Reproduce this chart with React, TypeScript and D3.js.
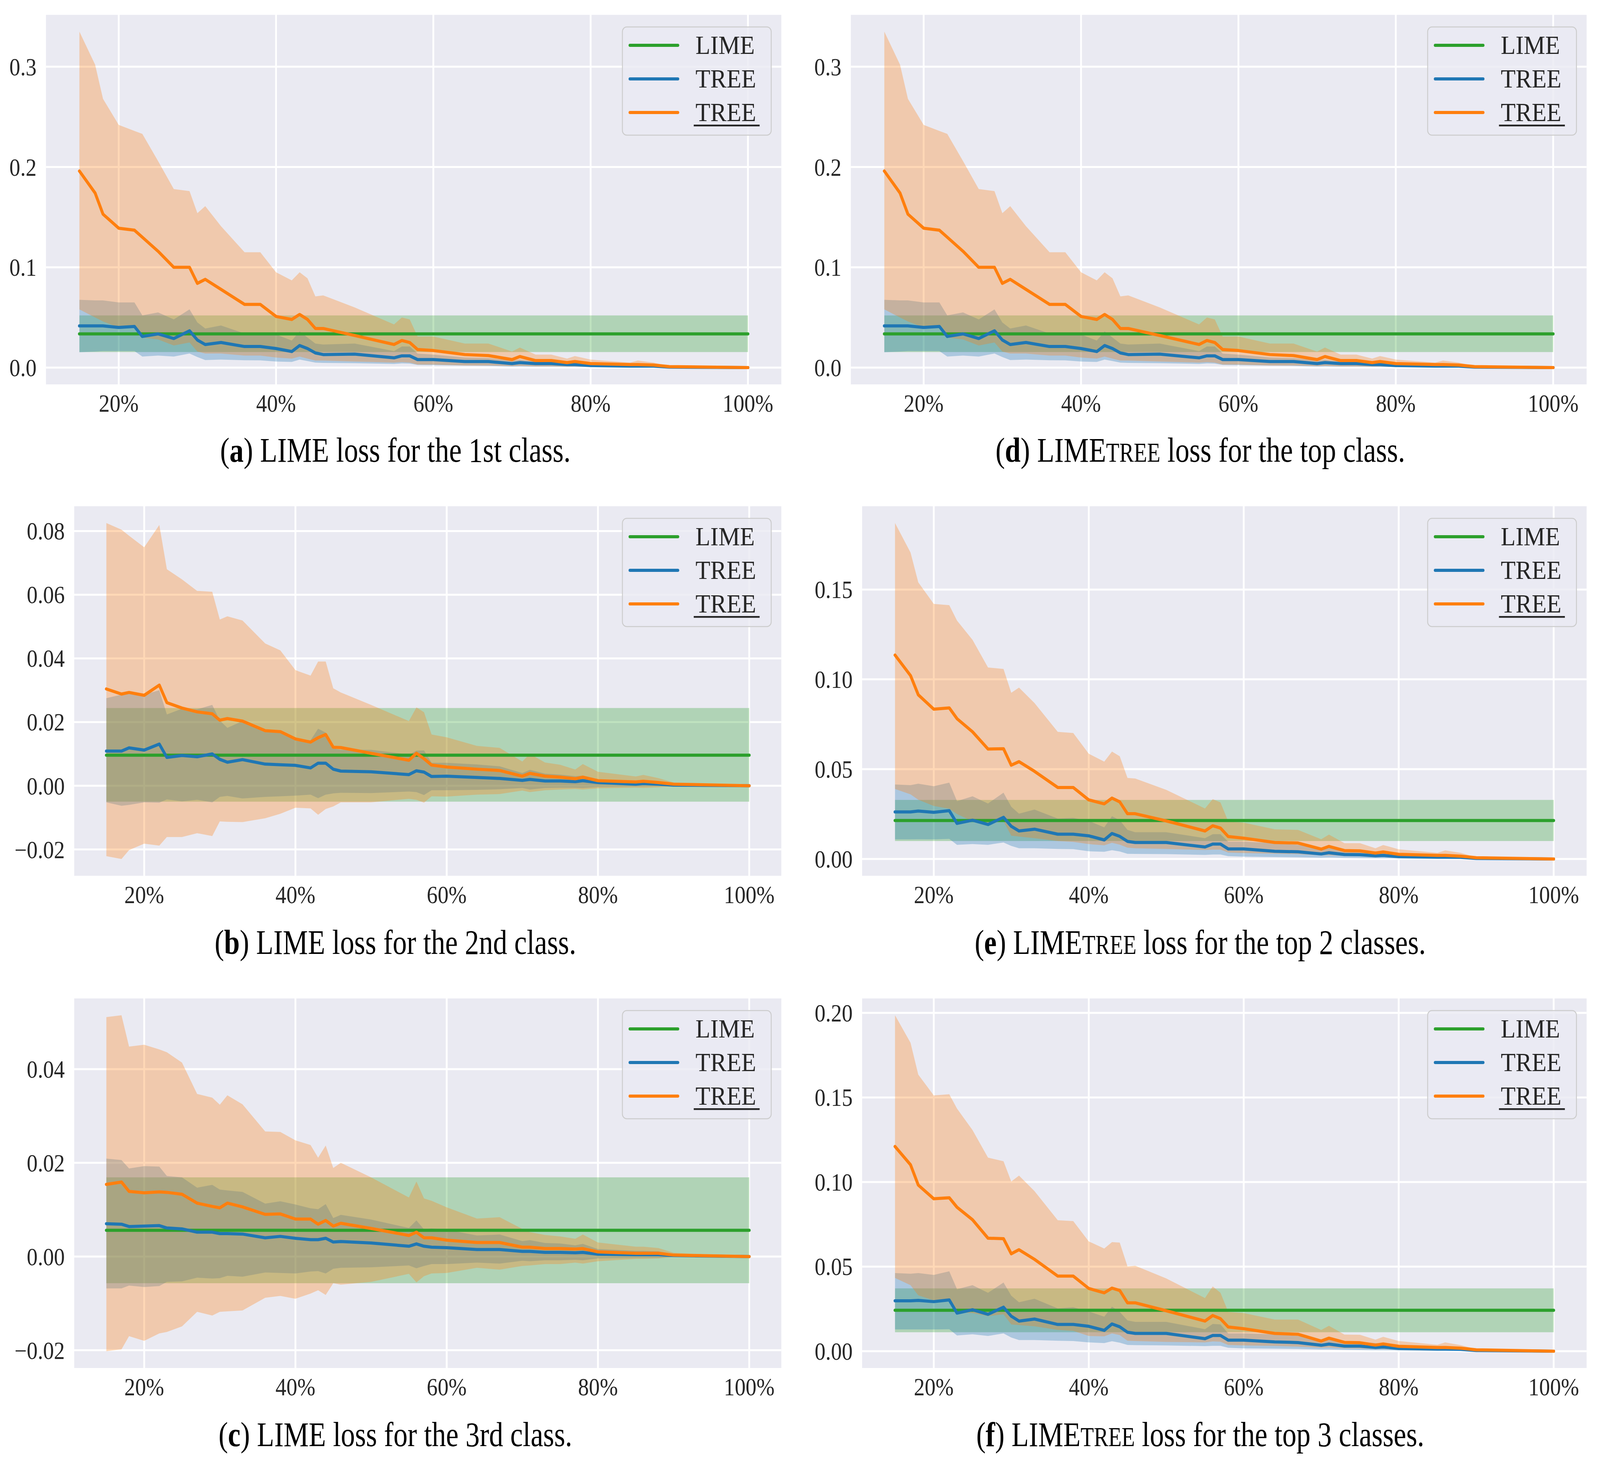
import * as d3 from 'd3';
import React, { useEffect } from 'react';

// sample fractions (percent of features kept)
const X = [15, 17, 18, 20, 22, 23, 25, 27, 29, 30, 31, 33, 36, 38, 40, 42, 43, 44, 45, 46, 50, 55, 56, 57, 58, 60, 64, 67, 70, 71, 73, 75, 77, 78, 80, 85, 86, 88, 90, 100];
const X_TICKS = [20, 40, 60, 80, 100];

// (a) and (d) share the same curves
const A_LIME = [0.0336, 0.0155, 0.052]; // mean, lower, upper
const A_TREE_MEAN = [0.0416, 0.0416, 0.0416, 0.04, 0.041, 0.031, 0.0336, 0.029, 0.0367, 0.0275, 0.023, 0.025, 0.021, 0.021, 0.019, 0.016, 0.022, 0.019, 0.0146, 0.013, 0.0134, 0.0097, 0.0117, 0.0117, 0.008, 0.008, 0.006, 0.006, 0.004, 0.005, 0.004, 0.004, 0.003, 0.003, 0.002, 0.0015, 0.0015, 0.0015, 0.0005, 0];
const A_TREE_HI = [0.0676, 0.067, 0.067, 0.065, 0.065, 0.052, 0.055, 0.048, 0.058, 0.045, 0.039, 0.042, 0.034, 0.035, 0.033, 0.027, 0.036, 0.03, 0.024, 0.023, 0.024, 0.0165, 0.021, 0.021, 0.014, 0.013, 0.01, 0.0095, 0.007, 0.008, 0.006, 0.006, 0.005, 0.005, 0.0035, 0.0025, 0.0025, 0.0025, 0.001, 0];
const A_TREE_LO = [0.0153, 0.016, 0.0165, 0.0165, 0.0165, 0.011, 0.012, 0.011, 0.014, 0.0105, 0.0075, 0.008, 0.0073, 0.0072, 0.006, 0.0056, 0.008, 0.0065, 0.005, 0.0047, 0.0044, 0.0036, 0.0042, 0.004, 0.0026, 0.0024, 0.002, 0.0018, 0.001, 0.0012, 0.0009, 0.0009, 0.0007, 0.0007, 0.0005, 0.0004, 0.0004, 0.0004, 0.0001, 0];
const A_UTREE_MEAN = [0.196, 0.174, 0.153, 0.139, 0.137, 0.13, 0.116, 0.1, 0.1, 0.084, 0.088, 0.078, 0.063, 0.063, 0.051, 0.048, 0.053, 0.048, 0.039, 0.039, 0.032, 0.023, 0.027, 0.025, 0.018, 0.017, 0.013, 0.012, 0.008, 0.011, 0.007, 0.007, 0.005, 0.006, 0.004, 0.003, 0.003, 0.0025, 0.001, 0];
const A_UTREE_HI = [0.335, 0.302, 0.268, 0.242, 0.236, 0.233, 0.206, 0.178, 0.176, 0.154, 0.161, 0.141, 0.115, 0.115, 0.095, 0.087, 0.095, 0.089, 0.071, 0.072, 0.06, 0.043, 0.05, 0.048, 0.031, 0.031, 0.024, 0.024, 0.016, 0.02, 0.013, 0.013, 0.009, 0.0115, 0.008, 0.005, 0.007, 0.005, 0.0015, 0];
const A_UTREE_LO = [0.058, 0.05, 0.046, 0.04, 0.041, 0.03, 0.028, 0.022, 0.025, 0.016, 0.014, 0.014, 0.012, 0.012, 0.01, 0.009, 0.011, 0.009, 0.007, 0.007, 0.006, 0.005, 0.0055, 0.005, 0.003, 0.003, 0.002, 0.002, 0.0015, 0.0017, 0.0012, 0.0012, 0.001, 0.001, 0.0008, 0.0006, 0.0006, 0.0005, 0.0002, 0];

// (b) 2nd class
const B_LIME = [0.0096, -0.005, 0.0244];
const B_TREE_MEAN = [0.0109, 0.0109, 0.0119, 0.0112, 0.0131, 0.0089, 0.0095, 0.0091, 0.01, 0.0083, 0.0074, 0.0082, 0.0068, 0.0066, 0.0064, 0.0056, 0.0071, 0.0071, 0.0052, 0.0046, 0.0044, 0.0035, 0.0047, 0.0043, 0.0029, 0.003, 0.0026, 0.0023, 0.0017, 0.002, 0.0015, 0.0015, 0.0013, 0.0016, 0.001, 0.0005, 0.0007, 0.0005, 0.0002, 0];
const B_TREE_HI = [0.0275, 0.0286, 0.0297, 0.0286, 0.03, 0.0224, 0.0242, 0.024, 0.0254, 0.0205, 0.0182, 0.0203, 0.0177, 0.017, 0.0147, 0.0143, 0.0179, 0.0167, 0.0117, 0.0113, 0.0113, 0.0098, 0.011, 0.0111, 0.0072, 0.0072, 0.0067, 0.0061, 0.004, 0.005, 0.0038, 0.0035, 0.003, 0.0032, 0.002, 0.0014, 0.0016, 0.0012, 0.0004, 0];
const B_TREE_LO = [-0.0052, -0.0063, -0.006, -0.0052, -0.0053, -0.0043, -0.0049, -0.0044, -0.0052, -0.0035, -0.0032, -0.004, -0.0035, -0.0033, -0.0031, -0.0028, -0.0039, -0.0028, -0.0024, -0.0022, -0.0023, -0.0018, -0.002, -0.0029, -0.0014, -0.0014, -0.0013, -0.0011, -0.0007, -0.0012, -0.0007, -0.0006, -0.0006, -0.0007, -0.0004, -0.0003, -0.0003, -0.0002, -0.0001, 0];
const B_UTREE_MEAN = [0.0304, 0.0288, 0.0293, 0.0284, 0.0316, 0.0261, 0.0244, 0.0232, 0.0226, 0.0206, 0.0211, 0.0203, 0.0173, 0.017, 0.0147, 0.0137, 0.0151, 0.0161, 0.0121, 0.012, 0.0102, 0.008, 0.0102, 0.0085, 0.0065, 0.0059, 0.0052, 0.0048, 0.003, 0.0039, 0.003, 0.0027, 0.0022, 0.0027, 0.0016, 0.0012, 0.0014, 0.001, 0.0005, 0];
const B_UTREE_HI = [0.0825, 0.0804, 0.0785, 0.0749, 0.0819, 0.068, 0.0648, 0.0612, 0.0609, 0.0522, 0.0532, 0.0519, 0.0447, 0.0425, 0.0363, 0.0346, 0.039, 0.039, 0.0306, 0.0293, 0.0254, 0.0203, 0.0246, 0.0231, 0.0161, 0.0152, 0.0125, 0.0119, 0.0076, 0.01, 0.0073, 0.0066, 0.0051, 0.0068, 0.0044, 0.0029, 0.0034, 0.0024, 0.001, 0];
const B_UTREE_LO = [-0.0221, -0.023, -0.0202, -0.0182, -0.0188, -0.0161, -0.0161, -0.0149, -0.0158, -0.0112, -0.0113, -0.0114, -0.0102, -0.0088, -0.0069, -0.0071, -0.0091, -0.0073, -0.0065, -0.0052, -0.0052, -0.0041, -0.0044, -0.0053, -0.0033, -0.0034, -0.0028, -0.0026, -0.0015, -0.002, -0.0014, -0.0012, -0.001, -0.0012, -0.0008, -0.0006, -0.0007, -0.0005, -0.0002, 0];

// (c) 3rd class
const C_LIME = [0.0056, -0.0057, 0.0169];
const C_TREE_MEAN = [0.007, 0.0069, 0.0064, 0.0065, 0.0066, 0.0061, 0.0059, 0.0052, 0.0052, 0.0049, 0.0049, 0.0048, 0.004, 0.0043, 0.0039, 0.0036, 0.0036, 0.0039, 0.0031, 0.0032, 0.0029, 0.0022, 0.0027, 0.0022, 0.002, 0.0019, 0.0015, 0.0015, 0.0011, 0.0011, 0.0009, 0.0009, 0.0008, 0.0009, 0.0005, 0.0004, 0.0004, 0.0004, 0.0002, 0];
const C_TREE_HI = [0.0209, 0.0206, 0.0188, 0.0193, 0.0192, 0.0172, 0.0169, 0.0147, 0.0153, 0.0143, 0.0141, 0.0138, 0.0113, 0.0118, 0.0111, 0.0103, 0.0101, 0.0112, 0.0082, 0.0089, 0.0079, 0.0061, 0.0077, 0.0058, 0.006, 0.0057, 0.0045, 0.0047, 0.0033, 0.0035, 0.0029, 0.0028, 0.0024, 0.0027, 0.0016, 0.0012, 0.0012, 0.0011, 0.0005, 0];
const C_TREE_LO = [-0.0068, -0.0068, -0.0062, -0.0065, -0.0063, -0.0054, -0.0053, -0.0045, -0.0047, -0.0046, -0.0041, -0.0043, -0.0034, -0.0035, -0.0036, -0.0032, -0.0031, -0.0036, -0.0026, -0.0024, -0.0023, -0.0019, -0.0025, -0.002, -0.0016, -0.0016, -0.0013, -0.0015, -0.0009, -0.001, -0.0008, -0.0008, -0.0007, -0.0008, -0.0004, -0.0003, -0.0003, -0.0003, -0.0001, 0];
const C_UTREE_MEAN = [0.0154, 0.0159, 0.0139, 0.0136, 0.0138, 0.0137, 0.0133, 0.0114, 0.0107, 0.0104, 0.0114, 0.0106, 0.009, 0.0091, 0.008, 0.008, 0.0069, 0.0077, 0.0065, 0.0071, 0.006, 0.0045, 0.0052, 0.004, 0.004, 0.0035, 0.003, 0.003, 0.002, 0.002, 0.0017, 0.0017, 0.0016, 0.0017, 0.001, 0.0007, 0.0007, 0.0007, 0.0003, 0];
const C_UTREE_HI = [0.0511, 0.0515, 0.0448, 0.0452, 0.0442, 0.0436, 0.0414, 0.0347, 0.0339, 0.0324, 0.0344, 0.0325, 0.0267, 0.0266, 0.0248, 0.0238, 0.0211, 0.0237, 0.0189, 0.02, 0.0169, 0.0126, 0.016, 0.0124, 0.0119, 0.0105, 0.0081, 0.0084, 0.0059, 0.0052, 0.0046, 0.0043, 0.0038, 0.0047, 0.003, 0.0021, 0.0021, 0.0018, 0.0008, 0];
const C_UTREE_LO = [-0.0202, -0.0198, -0.017, -0.018, -0.0164, -0.0161, -0.0149, -0.0118, -0.0126, -0.0118, -0.0117, -0.0115, -0.0088, -0.0084, -0.009, -0.0079, -0.0072, -0.0082, -0.0057, -0.006, -0.0054, -0.0037, -0.0055, -0.0042, -0.0036, -0.0035, -0.0024, -0.0028, -0.002, -0.0019, -0.0016, -0.0016, -0.0013, -0.0015, -0.001, -0.0005, -0.0005, -0.0004, -0.0001, 0];

// (e) top 2 classes
const E_LIME = [0.0214, 0.01, 0.0329];
const E_TREE_MEAN = [0.0262, 0.0262, 0.0267, 0.026, 0.0269, 0.0198, 0.0216, 0.0192, 0.0232, 0.0182, 0.0156, 0.0166, 0.0138, 0.0138, 0.0129, 0.0106, 0.0142, 0.0126, 0.0098, 0.0092, 0.0092, 0.0067, 0.0083, 0.0083, 0.0056, 0.0056, 0.0043, 0.004, 0.0028, 0.0035, 0.0025, 0.0024, 0.0018, 0.002, 0.0013, 0.001, 0.001, 0.0009, 0.0003, 0];
const E_TREE_HI = [0.0415, 0.0411, 0.0419, 0.0405, 0.0425, 0.0322, 0.0349, 0.0309, 0.0369, 0.0291, 0.0252, 0.0275, 0.0225, 0.0229, 0.0212, 0.0176, 0.0238, 0.0216, 0.0162, 0.0149, 0.0149, 0.0116, 0.0138, 0.0138, 0.0096, 0.0096, 0.0089, 0.0079, 0.006, 0.0065, 0.0052, 0.005, 0.0042, 0.004, 0.003, 0.002, 0.002, 0.0018, 0.0007, 0];
const E_TREE_LO = [0.0109, 0.0109, 0.011, 0.0109, 0.0112, 0.0079, 0.0083, 0.0079, 0.0092, 0.0073, 0.006, 0.006, 0.0056, 0.0055, 0.0043, 0.004, 0.0049, 0.0042, 0.0029, 0.0028, 0.0027, 0.0023, 0.0025, 0.0025, 0.0016, 0.0013, 0.0011, 0.0009, 0.0007, 0.0008, 0.0006, 0.0005, 0.0004, 0.0004, 0.0003, 0.0002, 0.0002, 0.0002, 0.0001, 0];
const E_UTREE_MEAN = [0.1135, 0.1021, 0.0914, 0.0834, 0.0841, 0.0781, 0.0708, 0.0612, 0.0614, 0.0522, 0.0542, 0.0488, 0.0398, 0.0398, 0.0329, 0.0307, 0.0339, 0.0318, 0.0252, 0.0252, 0.0212, 0.0156, 0.0185, 0.0172, 0.0125, 0.0116, 0.0092, 0.0089, 0.0055, 0.007, 0.0047, 0.0045, 0.0033, 0.0039, 0.0026, 0.002, 0.002, 0.0016, 0.0007, 0];
const E_UTREE_HI = [0.187, 0.1706, 0.154, 0.142, 0.1413, 0.1327, 0.122, 0.1066, 0.1058, 0.0925, 0.0954, 0.0868, 0.0708, 0.0701, 0.0586, 0.0542, 0.0598, 0.0572, 0.0451, 0.0448, 0.0385, 0.0281, 0.0333, 0.0315, 0.0209, 0.0202, 0.0165, 0.0162, 0.011, 0.0136, 0.0088, 0.0088, 0.006, 0.0078, 0.0054, 0.0034, 0.0048, 0.0034, 0.001, 0];
const E_UTREE_LO = [0.039, 0.036, 0.033, 0.0295, 0.028, 0.025, 0.021, 0.0196, 0.021, 0.013, 0.0125, 0.0116, 0.01, 0.0095, 0.0083, 0.0076, 0.009, 0.008, 0.0063, 0.006, 0.0056, 0.005, 0.0052, 0.0052, 0.0036, 0.0033, 0.003, 0.0027, 0.002, 0.0021, 0.0017, 0.0016, 0.0013, 0.0013, 0.001, 0.0007, 0.0007, 0.0006, 0.0003, 0];

// (f) top 3 classes
const F_LIME = [0.0242, 0.0112, 0.0371];
const F_TREE_MEAN = [0.0298, 0.0298, 0.03, 0.0293, 0.0303, 0.0225, 0.0245, 0.0218, 0.026, 0.0207, 0.0178, 0.019, 0.0158, 0.0158, 0.0147, 0.0123, 0.0161, 0.0144, 0.0112, 0.0105, 0.0105, 0.0074, 0.0093, 0.0093, 0.0065, 0.0065, 0.0055, 0.0051, 0.0035, 0.0042, 0.003, 0.003, 0.0022, 0.0025, 0.0016, 0.0012, 0.0012, 0.0011, 0.0004, 0];
const F_TREE_HI = [0.0462, 0.0458, 0.0462, 0.0451, 0.0472, 0.0366, 0.039, 0.0345, 0.0406, 0.0328, 0.0289, 0.031, 0.0253, 0.026, 0.0235, 0.0204, 0.0263, 0.0232, 0.0182, 0.0173, 0.0173, 0.013, 0.0161, 0.0158, 0.0105, 0.0105, 0.01, 0.009, 0.007, 0.0075, 0.006, 0.0055, 0.0048, 0.0045, 0.0035, 0.0022, 0.0022, 0.002, 0.0008, 0];
const F_TREE_LO = [0.0129, 0.0129, 0.0129, 0.0129, 0.013, 0.0093, 0.01, 0.009, 0.0105, 0.0081, 0.0066, 0.0066, 0.0062, 0.006, 0.0052, 0.0048, 0.0059, 0.005, 0.0037, 0.0036, 0.0034, 0.003, 0.0032, 0.0032, 0.002, 0.0017, 0.0015, 0.0013, 0.001, 0.001, 0.0008, 0.0007, 0.0006, 0.0006, 0.0004, 0.0003, 0.0003, 0.0002, 0.0001, 0];
const F_UTREE_MEAN = [0.121, 0.1102, 0.0982, 0.0901, 0.0907, 0.0851, 0.0777, 0.0668, 0.0665, 0.0576, 0.06, 0.0543, 0.0444, 0.0444, 0.0371, 0.0345, 0.0373, 0.0359, 0.0286, 0.0286, 0.0239, 0.0178, 0.0211, 0.0192, 0.0143, 0.0133, 0.0105, 0.01, 0.006, 0.0077, 0.0052, 0.005, 0.0036, 0.0043, 0.0029, 0.0022, 0.0022, 0.0018, 0.0008, 0];
const F_UTREE_HI = [0.1986, 0.1823, 0.1635, 0.1512, 0.1519, 0.1434, 0.1307, 0.1144, 0.1123, 0.1003, 0.1038, 0.0946, 0.0774, 0.0769, 0.0649, 0.0607, 0.0645, 0.0642, 0.0501, 0.0505, 0.043, 0.0314, 0.0383, 0.0345, 0.0232, 0.0225, 0.0187, 0.0187, 0.0125, 0.015, 0.0098, 0.0097, 0.0068, 0.0085, 0.006, 0.0038, 0.0052, 0.0036, 0.0012, 0];
const F_UTREE_LO = [0.0433, 0.039, 0.033, 0.03, 0.0306, 0.023, 0.0225, 0.0207, 0.0218, 0.0158, 0.0154, 0.0147, 0.0126, 0.012, 0.009, 0.0088, 0.0105, 0.0095, 0.0062, 0.006, 0.0055, 0.0052, 0.0058, 0.0056, 0.0037, 0.0034, 0.0031, 0.0027, 0.002, 0.0022, 0.0017, 0.0016, 0.0013, 0.0013, 0.001, 0.0007, 0.0007, 0.0006, 0.0003, 0];

const Y_TICKS_AD = [0, 0.1, 0.2, 0.3];
const Y_TICKS_B = [-0.02, 0, 0.02, 0.04, 0.06, 0.08];
const Y_TICKS_C = [-0.02, 0, 0.02, 0.04];
const Y_TICKS_E = [0, 0.05, 0.1, 0.15];
const Y_TICKS_F = [0, 0.05, 0.1, 0.15, 0.2];

const GREEN = '#2ca02c';
const BLUE = '#1f77b4';
const ORANGE = '#ff7f0e';
const BG = '#eaeaf2';
const INK = '#262626';
const FONT = '"Liberation Serif", "DejaVu Serif", serif';

const PANELS = [
  { letter: 'a', tree: false, rest: ' loss for the 1st class.', lime: A_LIME, tm: A_TREE_MEAN, tl: A_TREE_LO, th: A_TREE_HI, um: A_UTREE_MEAN, ul: A_UTREE_LO, uh: A_UTREE_HI, ticks: Y_TICKS_AD, fmt: '.1f', col: 0, row: 0, left: 127 },
  { letter: 'b', tree: false, rest: ' loss for the 2nd class.', lime: B_LIME, tm: B_TREE_MEAN, tl: B_TREE_LO, th: B_TREE_HI, um: B_UTREE_MEAN, ul: B_UTREE_LO, uh: B_UTREE_HI, ticks: Y_TICKS_B, fmt: '.2f', col: 0, row: 1, left: 205 },
  { letter: 'c', tree: false, rest: ' loss for the 3rd class.', lime: C_LIME, tm: C_TREE_MEAN, tl: C_TREE_LO, th: C_TREE_HI, um: C_UTREE_MEAN, ul: C_UTREE_LO, uh: C_UTREE_HI, ticks: Y_TICKS_C, fmt: '.2f', col: 0, row: 2, left: 205 },
  { letter: 'd', tree: true, rest: ' loss for the top class.', lime: A_LIME, tm: A_TREE_MEAN, tl: A_TREE_LO, th: A_TREE_HI, um: A_UTREE_MEAN, ul: A_UTREE_LO, uh: A_UTREE_HI, ticks: Y_TICKS_AD, fmt: '.1f', col: 1, row: 0, left: 2350 },
  { letter: 'e', tree: true, rest: ' loss for the top 2 classes.', lime: E_LIME, tm: E_TREE_MEAN, tl: E_TREE_LO, th: E_TREE_HI, um: E_UTREE_MEAN, ul: E_UTREE_LO, uh: E_UTREE_HI, ticks: Y_TICKS_E, fmt: '.2f', col: 1, row: 1, left: 2381 },
  { letter: 'f', tree: true, rest: ' loss for the top 3 classes.', lime: F_LIME, tm: F_TREE_MEAN, tl: F_TREE_LO, th: F_TREE_HI, um: F_UTREE_MEAN, ul: F_UTREE_LO, uh: F_UTREE_HI, ticks: Y_TICKS_F, fmt: '.2f', col: 1, row: 2, left: 2381 },
];

const W = 4419;
const H = 3735;
const ROW_TOP = [38, 1296, 2556];
const AX_H = 946;
const COL_RIGHT = [2158, 4382];
const CAP_X = [1092, 3315];
const CAP_BASE = [1182, 2442, 3702];
const LW = 8;

function Panel({ p }: { p: any }) {
  const top = ROW_TOP[p.row];
  const bottom = top + AX_H;
  const left = p.left;
  const right = COL_RIGHT[p.col];

  const x = d3.scaleLinear().domain([10.75, 104.25]).range([left, right]);
  const all = [...p.uh, ...p.ul, ...p.th, ...p.tl, p.lime[1], p.lime[2]];
  const [mn, mx] = d3.extent(all) as [number, number];
  const pad = (mx - mn) * 0.05;
  const y = d3.scaleLinear().domain([mn - pad, mx + pad]).range([bottom, top]);
  const fmt = d3.format(p.fmt);

  const band = (lo: (i: number) => number, hi: (i: number) => number) =>
    d3.area<number>().x(d => x(d)).y0((_, i) => y(lo(i))).y1((_, i) => y(hi(i)))(X) || '';
  const line = (m: (i: number) => number) =>
    d3.line<number>().x(d => x(d)).y((_, i) => y(m(i)))(X) || '';

  // legend geometry
  const lw = 411, lh = 277;
  const lx = right - 28 - lw;
  const ly = top + 31;
  const entries = [
    { c: GREEN, t: 'LIME', u: false },
    { c: BLUE, t: 'TREE', u: false },
    { c: ORANGE, t: 'TREE', u: true },
  ];

  return (
    <g>
      <rect x={left} y={top} width={right - left} height={bottom - top} fill={BG} />
      {X_TICKS.map(t => (
        <line key={'gx' + t} x1={x(t)} x2={x(t)} y1={top} y2={bottom} stroke="#fff" strokeWidth={5} />
      ))}
      {p.ticks.map((t: number) => (
        <line key={'gy' + t} x1={left} x2={right} y1={y(t)} y2={y(t)} stroke="#fff" strokeWidth={5} />
      ))}

      {/* bands (drawn beneath the lines, as matplotlib does) */}
      <path d={band(() => p.lime[1], () => p.lime[2])} fill={GREEN} fillOpacity={0.3} />
      <path d={band(i => p.tl[i], i => p.th[i])} fill={BLUE} fillOpacity={0.3} />
      <path d={band(i => p.ul[i], i => p.uh[i])} fill={ORANGE} fillOpacity={0.3} />

      <path d={line(() => p.lime[0])} fill="none" stroke={GREEN} strokeWidth={LW} strokeLinecap="round" strokeLinejoin="round" />
      <path d={line(i => p.tm[i])} fill="none" stroke={BLUE} strokeWidth={LW} strokeLinecap="round" strokeLinejoin="round" />
      <path d={line(i => p.um[i])} fill="none" stroke={ORANGE} strokeWidth={LW} strokeLinecap="round" strokeLinejoin="round" />

      {/* tick labels */}
      {X_TICKS.map(t => (
        <text key={'tx' + t} transform={`translate(${x(t)},${bottom + 70}) scale(1,1.05)`} textAnchor="middle" fontSize={60} fill={INK} fontFamily={FONT}>
          {t + '%'}
        </text>
      ))}
      {p.ticks.map((t: number) => (
        <text key={'ty' + t} transform={`translate(${left - 26},${y(t) + 22}) scale(1,1.05)`} textAnchor="end" fontSize={60} fill={INK} fontFamily={FONT}>
          {fmt(t)}
        </text>
      ))}

      {/* legend */}
      <rect x={lx} y={ly} width={lw} height={lh} rx={12} fill={BG} fillOpacity={0.8} stroke="#cccccc" strokeWidth={2.5} />
      {entries.map((e, i) => (
        <g key={'lg' + i}>
          <line x1={lx + 21} x2={lx + 153} y1={ly + 47 + i * 86} y2={ly + 47 + i * 86} stroke={e.c} strokeWidth={LW} strokeLinecap="round" />
          <text x={lx + 202} y={ly + 69 + i * 86} fontSize={67} fill={INK} fontFamily={FONT}>
            {e.t}
          </text>
          {e.u && <rect x={lx + 197} y={ly + 78 + i * 86} width={182} height={4.5} fill={INK} />}
        </g>
      ))}

      {/* caption */}
      <text transform={`translate(${CAP_X[p.col]},${CAP_BASE[p.row]}) scale(1,1.15)`} textAnchor="middle" fontSize={78} fill="#000" fontFamily={FONT}>
        {'('}
        <tspan fontWeight="bold">{p.letter}</tspan>
        {') LIME'}
        {p.tree && <tspan fontSize={60}>{'TREE'}</tspan>}
        {p.rest}
      </text>
    </g>
  );
}

export default function App() {
  useEffect(() => {
    document.body.style.margin = '0';
    document.body.style.overflow = 'hidden';
  }, []);

  // the drawing is laid out on a 4419 x 3735 grid and stretched to fill the window
  return (
    <svg
      viewBox={`0 0 ${W} ${H}`}
      preserveAspectRatio="none"
      style={{ position: 'fixed', left: 0, top: 0, width: '100vw', height: '100vh', background: '#fff' }}
    >
      <rect width={W} height={H} fill="#fff" />
      {PANELS.map(p => (
        <Panel key={p.letter} p={p} />
      ))}
    </svg>
  );
}
